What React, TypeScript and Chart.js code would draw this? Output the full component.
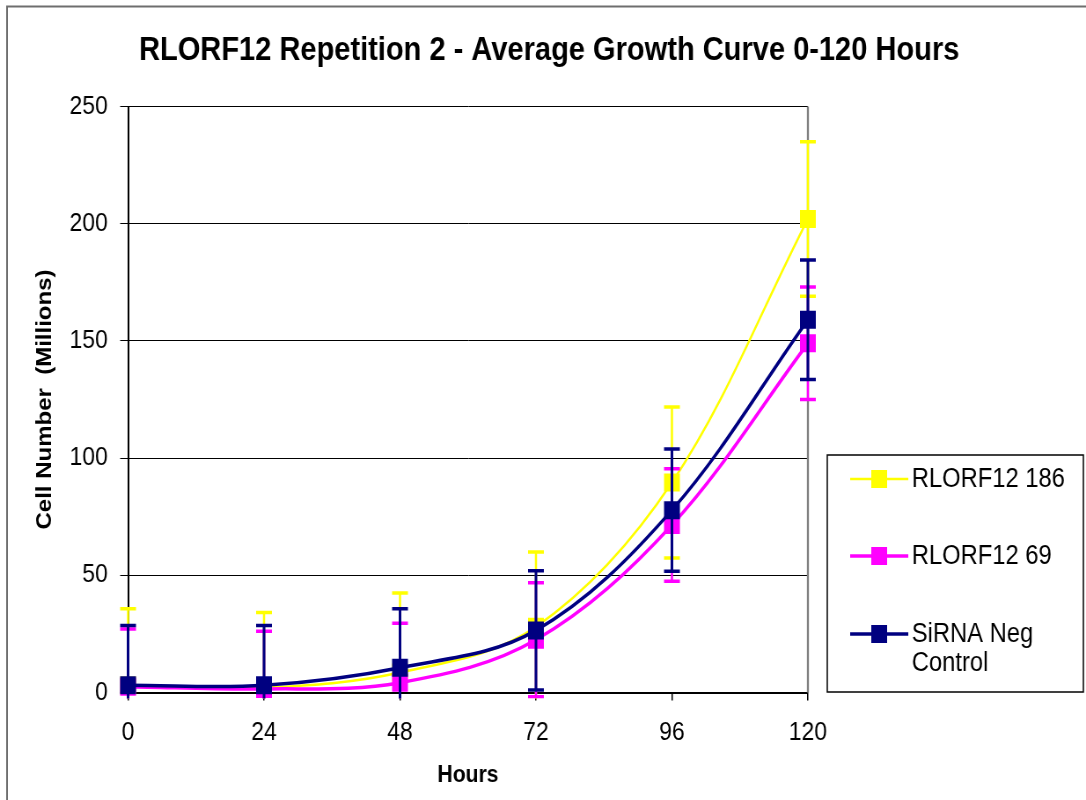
import React, { useEffect, useRef } from 'react';
import { Chart, registerables } from 'chart.js';

Chart.register(...registerables);

// The chart is laid out on a wider bitmap and shown narrower, giving the condensed look.
const SQUEEZE = 0.88;
const VIEW_W = 1086;
const VIEW_H = 800;
const CANVAS_W = Math.round(VIEW_W / SQUEEZE);
const FONT = '"Liberation Sans", Arial, Helvetica, sans-serif';

const chartTitle = 'RLORF12 Repetition 2 - Average Growth Curve 0-120 Hours';
const xAxisTitle = 'Hours';
const yAxisTitle = 'Cell Number  (Millions)';

const hours = ['0', '24', '48', '72', '96', '120'];
const yTicks = [0, 50, 100, 150, 200, 250];

const rl186 = [3.0, 2.0, 8.5, 28.0, 89.6, 202.0];
const rl186Err = [32.7, 32.1, 34.0, 31.9, 32.2, 33.0];

const rl69 = [2.5, 1.5, 4.2, 22.5, 71.5, 149.0];
const rl69Err = [24.6, 24.6, 25.3, 24.3, 24.0, 24.0];

const negCtrl = [3.1, 3.1, 10.6, 26.5, 77.8, 159.0];
const negCtrlErr = [25.5, 25.5, 25.1, 25.4, 26.1, 25.5];

const legendLabels = [['RLORF12 186'], ['RLORF12 69'], ['SiRNA Neg', 'Control']];

const series = [
  { label: legendLabels[0], color: '#FFFF00', values: rl186, errors: rl186Err, width: 2.5, barWidth: 2.5, order: 3 },
  { label: legendLabels[1], color: '#FF00FF', values: rl69, errors: rl69Err, width: 3.5, barWidth: 2.5, order: 2 },
  { label: legendLabels[2], color: '#000080', values: negCtrl, errors: negCtrlErr, width: 3.5, barWidth: 3, order: 1 },
];

const MARKER_SIDE = 18;
const MARKER_RADIUS = MARKER_SIDE / Math.SQRT2;

const decorPlugin = {
  id: 'decor',
  beforeDraw(chart: any) {
    const ctx = chart.ctx;
    ctx.save();
    ctx.fillStyle = '#ffffff';
    ctx.fillRect(0, 0, chart.width, chart.height);
    // outer frame (continues past the right and bottom edges)
    ctx.strokeStyle = '#6e6e6e';
    ctx.lineWidth = 2;
    ctx.strokeRect(8, 6.5, chart.width + 40, chart.height + 40);
    ctx.restore();
  },
  beforeDatasetsDraw(chart: any) {
    const { ctx, chartArea } = chart;
    ctx.save();
    ctx.strokeStyle = '#808080';
    ctx.lineWidth = 2.3;
    ctx.beginPath();
    ctx.moveTo(chartArea.right, chartArea.top);
    ctx.lineTo(chartArea.right, chartArea.bottom);
    ctx.stroke();
    ctx.restore();
  },
  afterDatasetDraw(chart: any, args: any) {
    const s = series[args.index];
    if (!s) return;
    const { ctx, chartArea } = chart;
    const xs = chart.scales.x;
    const ys = chart.scales.y;
    ctx.save();
    ctx.beginPath();
    ctx.rect(chartArea.left - 20, chartArea.top - 20, chartArea.right - chartArea.left + 40, chartArea.bottom - chartArea.top + 26);
    ctx.clip();
    ctx.strokeStyle = s.color;
    s.values.forEach((v: number, i: number) => {
      const x = xs.getPixelForValue(i);
      const hi = ys.getPixelForValue(v + s.errors[i]);
      const lo = ys.getPixelForValue(v - s.errors[i]);
      ctx.lineWidth = s.barWidth;
      ctx.beginPath();
      ctx.moveTo(x, hi);
      ctx.lineTo(x, lo);
      ctx.stroke();
      ctx.lineWidth = 3.5;
      ctx.beginPath();
      ctx.moveTo(x - 9, hi);
      ctx.lineTo(x + 9, hi);
      ctx.moveTo(x - 9, lo);
      ctx.lineTo(x + 9, lo);
      ctx.stroke();
    });
    ctx.restore();
  },
  afterDraw(chart: any) {
    const { ctx, chartArea } = chart;
    ctx.save();
    ctx.fillStyle = '#000';

    // chart title
    ctx.font = `bold 33px ${FONT}`;
    ctx.textAlign = 'center';
    ctx.textBaseline = 'alphabetic';
    ctx.fillText(chartTitle, 624, 60);

    // x axis title
    ctx.font = `bold 24px ${FONT}`;
    ctx.fillText(xAxisTitle, (chartArea.left + chartArea.right) / 2, 782);

    // y axis title
    ctx.save();
    ctx.translate(51, (chartArea.top + chartArea.bottom) / 2);
    ctx.rotate(-Math.PI / 2);
    ctx.textBaseline = 'middle';
    ctx.fillText(yAxisTitle, 0, 0);
    ctx.restore();

    // legend box
    const lx = 940, ly = 455, lw = 291, lh = 237;
    ctx.strokeStyle = '#000';
    ctx.lineWidth = 1.5;
    ctx.strokeRect(lx, ly, lw, lh);
    const rows = [479, 556, 634];
    series.forEach((s, i) => {
      const y = rows[i];
      ctx.strokeStyle = s.color;
      ctx.lineWidth = s.width;
      ctx.beginPath();
      ctx.moveTo(966, y);
      ctx.lineTo(1032, y);
      ctx.stroke();
      ctx.fillStyle = s.color;
      ctx.fillRect(999 - MARKER_SIDE / 2, y - MARKER_SIDE / 2, MARKER_SIDE, MARKER_SIDE);
      ctx.fillStyle = '#000';
      ctx.font = `27px ${FONT}`;
      ctx.textAlign = 'left';
      ctx.textBaseline = 'middle';
      s.label.forEach((line: string, j: number) => {
        ctx.fillText(line, 1036, y + 1 + j * 29);
      });
    });
    ctx.restore();
  },
};

export default function App() {
  const canvasRef = useRef<HTMLCanvasElement>(null);

  useEffect(() => {
    const canvas = canvasRef.current;
    if (!canvas) return;
    const chart = new Chart(canvas, {
      type: 'line',
      data: {
        labels: hours,
        datasets: series.map((s) => ({
          label: s.label.join(' '),
          data: s.values,
          borderColor: s.color,
          backgroundColor: s.color,
          borderWidth: s.width,
          tension: 0.35,
          pointStyle: 'rect',
          pointRadius: MARKER_RADIUS,
          pointBorderWidth: 0,
          pointBackgroundColor: s.color,
          order: s.order,
          clip: 20,
          fill: false,
        })),
      },
      options: {
        responsive: false,
        animation: false,
        devicePixelRatio: 1,
        events: [],
        layout: { padding: { left: 0, top: 106.5, right: CANVAS_W - 918, bottom: 47.5 } },
        plugins: {
          legend: { display: false },
          tooltip: { enabled: false },
          title: { display: false },
        },
        scales: {
          x: {
            type: 'category',
            offset: false,
            afterFit: (scale: any) => { scale.height = 60; },
            grid: { drawOnChartArea: false, drawTicks: true, tickLength: 8, color: '#000', lineWidth: 1.5, offset: false },
            border: { color: '#000', width: 2 },
            ticks: { color: '#000', font: { family: FONT, size: 26 }, padding: 17, maxRotation: 0, autoSkip: false },
          },
          y: {
            min: yTicks[0],
            max: yTicks[yTicks.length - 1],
            afterFit: (scale: any) => { scale.width = 145.5; },
            afterBuildTicks: (scale: any) => { scale.ticks = yTicks.map((v) => ({ value: v })); },
            grid: { color: '#000', lineWidth: 1, tickLength: 9, drawTicks: true },
            border: { color: '#000', width: 2 },
            ticks: { color: '#000', font: { family: FONT, size: 26 }, padding: 14, callback: (v: any) => String(v) },
          },
        },
      },
      plugins: [decorPlugin],
    } as any);
    return () => chart.destroy();
  }, []);

  return (
    <canvas
      ref={canvasRef}
      width={CANVAS_W}
      height={VIEW_H}
      style={{ position: 'absolute', left: 0, top: 0, width: `${VIEW_W}px`, height: `${VIEW_H}px` }}
    />
  );
}
